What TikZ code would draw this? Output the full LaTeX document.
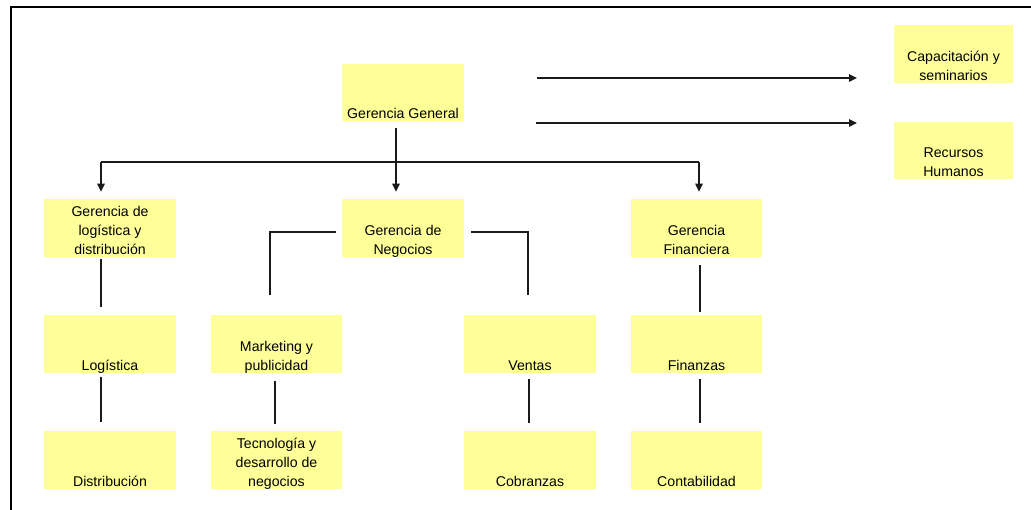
\documentclass[tikz,border=0pt]{standalone}
\usepackage{fontspec}
\setmainfont{Liberation Sans}
\usetikzlibrary{arrows.meta,fit}
\definecolor{cellyellow}{HTML}{FFFF99}
\definecolor{inkline}{HTML}{1A1A1A}
% yellow cell with bottom-aligned, centred text
\newcommand\orgcell[6]{%
  \node[cell, fit={(#2,#3) (#4,#5)}] (#1) {};
  \node[celltext] (#1-t) at ([yshift=2.4pt]#1.south) {#6};}
\begin{document}
\begin{tikzpicture}[x=0.75pt,y=-0.75pt,
  cell/.style={fill=cellyellow, inner sep=0pt, draw=none},
  celltext/.style={font=\fontsize{10.6pt}{14.25pt}\selectfont, align=center,
                   inner sep=0pt, anchor=base, text=black},
  link/.style={draw=inkline, line width=1.1pt},
  arrow/.style={link, -{Triangle[width=5.5pt,length=6pt]}},
]
\useasboundingbox (0,0) rectangle (1031,510);
\draw[line width=1.5pt] (11,510) -- (11,7.5) -- (1031,7.5);

\orgcell{gg}{342}{64}{464}{121}{Gerencia General}
\orgcell{cs}{894}{25}{1013}{83}{Capacitación y\\seminarios}
\orgcell{rh}{894}{122}{1013}{179}{Recursos\\Humanos}
\orgcell{gl}{44}{199}{176}{257}{Gerencia de\\logística y\\distribución}
\orgcell{gn}{342}{199}{464}{257}{Gerencia de\\Negocios}
\orgcell{gf}{631}{199}{762}{257}{Gerencia\\Financiera}
\orgcell{lo}{44}{315}{176}{373}{Logística}
\orgcell{mk}{211}{315}{342}{373}{Marketing y\\publicidad}
\orgcell{ve}{464}{315}{596}{373}{Ventas}
\orgcell{fi}{631}{315}{762}{373}{Finanzas}
\orgcell{di}{44}{431}{176}{489}{Distribución}
\orgcell{te}{211}{431}{342}{489}{Tecnología y\\desarrollo de\\negocios}
\orgcell{co}{464}{431}{596}{489}{Cobranzas}
\orgcell{ct}{631}{431}{762}{489}{Contabilidad}

% top-level distribution bus
\coordinate (busL) at (101,162);
\coordinate (busR) at (699,162);
\draw[arrow] ([xshift=-5.25pt,yshift=-5.25pt]gg.south) -- ([xshift=-5.25pt,yshift=5.25pt]gn.north);
\draw[link] (busL) -- (busR);
\draw[arrow, shorten >=5.25pt] (busL) -- (busL |- gl.north);
\draw[arrow, shorten >=5.25pt] (busR) -- (busR |- gf.north);

% free arrows towards the staff units
\coordinate (a1s) at (537,78);
\coordinate (a1e) at (857,78);
\coordinate (a2s) at (536,123);
\coordinate (a2e) at (857,123);
\draw[arrow] (a1s) -- (a1e);
\draw[arrow] (a2s) -- (a2e);

% business branch
\coordinate (nl) at (270,295);
\coordinate (nr) at (528,295);
\draw[link] ([xshift=-4.5pt,yshift=-3pt]gn.west) -| (nl);
\draw[link] ([xshift=5.25pt,yshift=-3pt]gn.east) -| (nr);

% vertical links
\draw[link] ([yshift=-1.5pt]gl.south -| busL) -- ([yshift=6pt]lo.north -| busL);
\draw[link, line width=1.6pt] ([yshift=-3pt]lo.south -| busL) -- ([yshift=6.75pt]di.north -| busL);
\draw[link] ([xshift=-1pt,yshift=-6pt]mk.south) -- ([xshift=-1pt,yshift=5.25pt]te.north);
\draw[link] ([xshift=-0.75pt,yshift=-4.5pt]ve.south) -- ([xshift=-0.75pt,yshift=6pt]co.north);
\draw[link] ([xshift=2.6pt,yshift=-6pt]gf.south) -- ([xshift=2.6pt,yshift=2.25pt]fi.north);
\draw[link] ([xshift=2.6pt,yshift=-4.5pt]fi.south) -- ([xshift=2.6pt,yshift=6pt]ct.north);
\end{tikzpicture}
\end{document}
